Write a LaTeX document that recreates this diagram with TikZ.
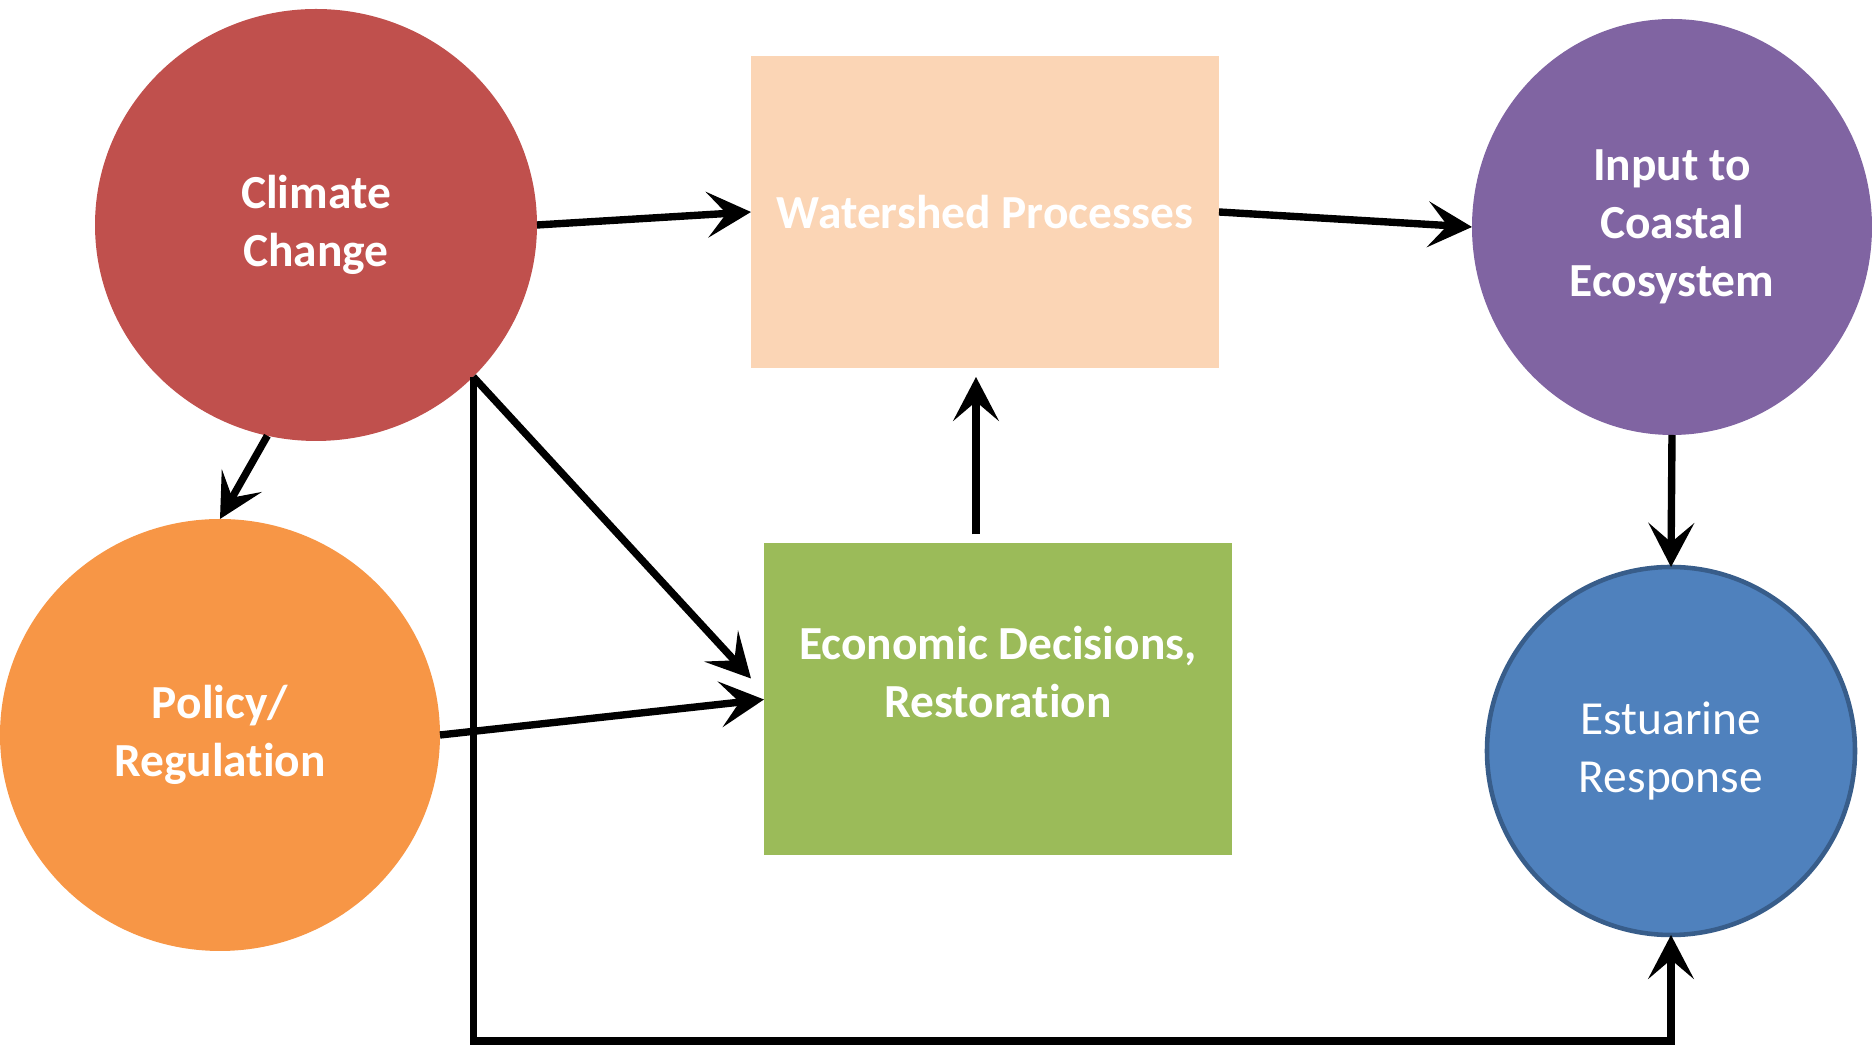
\documentclass[tikz,border=0pt]{standalone}
\usepackage{fontspec}
\setmainfont{Carlito}[Ligatures=NoCommon]
\usepackage{tikz}
\usetikzlibrary{positioning,shapes.geometric,arrows.meta,calc}

\definecolor{cliRed}{HTML}{C0504D}
\definecolor{polOrange}{HTML}{F79646}
\definecolor{inPurple}{HTML}{8064A2}
\definecolor{estBlue}{HTML}{4F81BD}
\definecolor{estEdge}{HTML}{385D8A}
\definecolor{wsPeach}{HTML}{FBD5B5}
\definecolor{ecoGreen}{HTML}{9BBB59}

\begin{document}
\begin{tikzpicture}[thick,
    krog/.style={ellipse, text=white, align=center, inner sep=0pt, outer sep=0pt,
      font=\bfseries\fontsize{13.5}{16.5}\selectfont},
    skatla/.style={rectangle, text=white, align=center, outer sep=0pt,
      minimum width=4.68cm, minimum height=3.12cm,
      font=\bfseries\fontsize{13.5}{16.5}\selectfont},
    link/.style={line width=2.1pt, -{Stealth[length=12.5pt,width=13pt,inset=5.5pt]}}]
    \useasboundingbox (0,0) rectangle (18.72,-10.46);

    % krogi
    \node[krog, fill=cliRed, minimum width=4.42cm, minimum height=4.32cm] (cc) at (3.16,-2.25) {Climate\\Change};
    \node[krog, fill=polOrange, minimum width=4.40cm, minimum height=4.32cm] (pol) at (2.20,-7.35) {Policy/\\Regulation};
    \node[krog, fill=inPurple, minimum width=4.00cm, minimum height=4.16cm] (ic) at (16.72,-2.27) {Input to\\Coastal\\Ecosystem};
    \node[krog, fill=estBlue, draw=estEdge, line width=1.3pt, minimum size=3.68cm,
      font=\fontsize{13.5}{16.5}\selectfont] (est) at (16.71,-7.51) {Estuarine\\Response};

    % pravokotnika
    \node[skatla, fill=wsPeach] (ws) at (9.85,-2.12) {Watershed Processes};
    \node[skatla, fill=ecoGreen] (eco) at (9.98,-6.995) {Economic Decisions,\\Restoration\\[-6pt]\strut};

    % tocke za povezave
    \coordinate (izhod) at (cc.-44);
    \coordinate (dno) at (4.72,-10.41);
    \coordinate (gor) at ($(eco.north)+(-0.22,0)$);
    \coordinate (diag) at ($(eco.west)+(-0.13,0.21)$);

    % povezave
    \draw[link] (cc.east) -- (ws.west);
    \draw[link] (ws.east) -- (ic.west);
    \draw[link] (ic.south) -- (est.north);
    \draw[link] (cc.257) -- (pol.north);
    \draw[link] (izhod) -- (diag);
    \draw[link] (pol.east) -- (eco.west);
    \draw[link, shorten <=0.09cm, shorten >=0.09cm] (gor) -- (gor |- ws.south);

    % povratna zanka
    \draw[link] (izhod) -- (izhod |- dno) -| (est.south);
  \end{tikzpicture}
\end{document}
